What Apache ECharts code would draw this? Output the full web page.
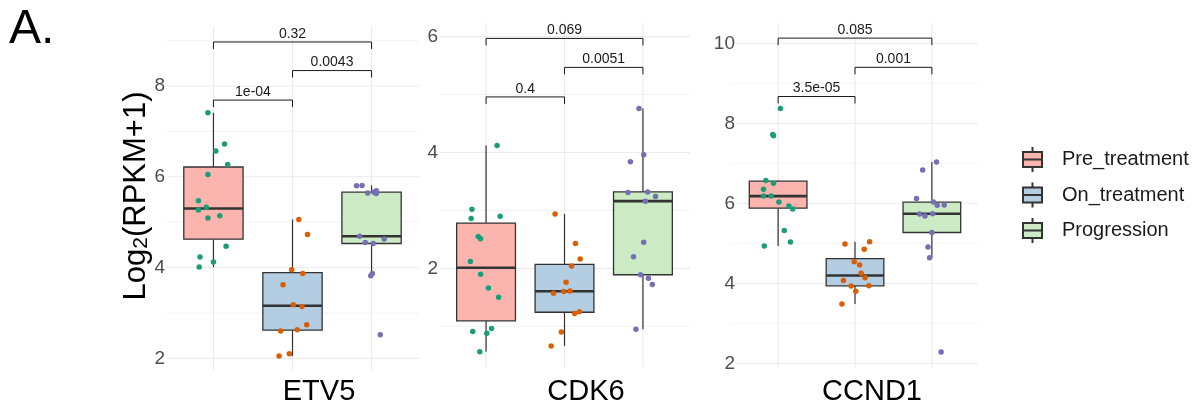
<!DOCTYPE html>
<html>
<head>
<meta charset="utf-8">
<script src="https://cdn.jsdelivr.net/npm/echarts@6/dist/echarts.min.js"></script>
<style>
  html, body { margin: 0; padding: 0; background: #ffffff; }
  #chart { width: 1195px; height: 410px; }
</style>
</head>
<body>
<div id="chart"></div>
<script>
// Treatment groups and genes
const groups = ['Pre_treatment', 'On_treatment', 'Progression'];
const genes = ['ETV5', 'CDK6', 'CCND1'];

// ETV5 expression, log2(RPKM+1), one value per sample
const etv5Pre  = [7.41, 6.72, 6.57, 6.27, 6.05, 5.47, 5.33, 5.27, 5.09, 5.14, 4.47, 4.23, 4.12, 4.01];
const etv5On   = [5.06, 4.73, 3.95, 3.87, 3.62, 3.18, 3.14, 2.74, 2.60, 2.63, 2.10, 2.05];
const etv5Prog = [5.80, 5.81, 5.64, 5.66, 5.69, 5.63, 4.69, 4.63, 4.55, 4.53, 3.82, 3.87, 2.52];
// horizontal jitter of each sample dot (category units)
const etv5PreJitter  = [-0.07, 0.14, 0.03, 0.18, -0.07, -0.19, -0.09, -0.19, -0.07, 0.08, 0.16, -0.17, 0.00, -0.18];
const etv5OnJitter   = [0.08, 0.19, -0.01, 0.13, -0.12, 0.01, 0.12, 0.18, -0.15, 0.06, -0.04, -0.17];
const etv5ProgJitter = [-0.19, -0.12, -0.05, 0.03, 0.06, 0.06, -0.15, 0.16, -0.08, 0.02, -0.01, 0.01, 0.11];
const etv5PValues = ['1e-04', '0.0043', '0.32'];
const etv5Ticks = [2, 4, 6, 8];
const etv5MinorTicks = [3, 5, 7, 9];

// CDK6
const cdk6Pre  = [4.12, 3.02, 2.86, 2.90, 2.55, 2.51, 2.12, 1.90, 1.66, 1.50, 0.91, 0.88, 0.96, 0.56];
const cdk6On   = [2.94, 2.43, 2.16, 2.04, 1.76, 1.57, 1.60, 1.61, 1.22, 1.25, 0.90, 0.66];
const cdk6Prog = [4.76, 3.96, 3.84, 3.31, 3.32, 3.24, 3.16, 2.45, 2.20, 1.89, 1.83, 1.72, 0.95];
const cdk6PreJitter  = [0.14, -0.18, -0.19, 0.18, -0.10, -0.07, -0.20, -0.07, 0.03, 0.16, -0.17, 0.01, 0.07, -0.08];
const cdk6OnJitter   = [-0.12, 0.14, 0.20, 0.09, 0.02, -0.14, -0.01, 0.07, 0.13, 0.19, -0.04, -0.17];
const cdk6ProgJitter = [-0.05, 0.01, -0.16, -0.19, 0.06, 0.16, 0.03, 0.01, -0.12, -0.03, 0.07, 0.12, -0.09];
const cdk6PValues = ['0.4', '0.0051', '0.069'];
const cdk6Ticks = [2, 4, 6];
const cdk6MinorTicks = [1, 3, 5];

// CCND1
const ccnd1Pre  = [8.37, 7.72, 7.69, 6.57, 6.50, 6.35, 6.18, 6.18, 6.03, 5.93, 5.86, 5.32, 5.03, 4.93];
const ccnd1On   = [4.98, 5.04, 4.85, 4.54, 4.46, 4.25, 4.14, 4.07, 3.93, 3.94, 3.80, 3.48];
const ccnd1Prog = [7.03, 6.83, 6.12, 6.03, 5.95, 5.96, 5.73, 5.68, 5.74, 5.27, 4.91, 4.64, 2.28];
const ccnd1PreJitter  = [0.03, -0.07, -0.06, -0.16, -0.06, -0.19, -0.19, -0.09, 0.01, 0.14, 0.19, 0.08, 0.16, -0.18];
const ccnd1OnJitter   = [-0.13, 0.19, 0.12, -0.01, 0.06, 0.08, 0.13, -0.15, -0.05, 0.18, 0.01, -0.17];
const ccnd1ProgJitter = [0.06, -0.12, -0.20, 0.02, 0.07, 0.16, -0.16, -0.09, 0.01, 0.00, -0.05, -0.03, 0.12];
const ccnd1PValues = ['3.5e-05', '0.001', '0.085'];
const ccnd1Ticks = [2, 4, 6, 8, 10];
const ccnd1MinorTicks = [3, 5, 7, 9];

// pairwise comparisons (1-based group positions), same order as the p-value lists
const comparisons = [[1, 2], [2, 3], [1, 3]];

// ---- styling / layout ----
const FONT = '"Liberation Sans", Arial, Helvetica, sans-serif';
const boxFill = ['#FBB4AE', '#B3CDE3', '#CCEBC5'];
const dotColor = ['#1B9E77', '#D95F02', '#7570B3'];
const OUTLINE = '#333333';
const BOX_WIDTH = 0.75;
const TIP = 7;

const panels = [
  { gene: genes[0], values: [etv5Pre, etv5On, etv5Prog], jitter: [etv5PreJitter, etv5OnJitter, etv5ProgJitter],
    pValues: etv5PValues, ticks: etv5Ticks, minor: etv5MinorTicks,
    grid: { left: 166, top: 27, width: 253, height: 343 }, yMin: 1.743, yMax: 9.30,
    bracketY: [7.69, 8.34, 8.97], labelX: 319, labelMargin: -1 },
  { gene: genes[1], values: [cdk6Pre, cdk6On, cdk6Prog], jitter: [cdk6PreJitter, cdk6OnJitter, cdk6ProgJitter],
    pValues: cdk6PValues, ticks: cdk6Ticks, minor: cdk6MinorTicks,
    grid: { left: 439, top: 23, width: 251, height: 344 }, yMin: 0.297, yMax: 6.236,
    bracketY: [4.96, 5.47, 5.97], labelX: 586, labelMargin: -1 },
  { gene: genes[2], values: [ccnd1Pre, ccnd1On, ccnd1Prog], jitter: [ccnd1PreJitter, ccnd1OnJitter, ccnd1ProgJitter],
    pValues: ccnd1PValues, ticks: ccnd1Ticks, minor: ccnd1MinorTicks,
    grid: { left: 732, top: 23, width: 246, height: 345 }, yMin: 1.883, yMax: 10.508,
    bracketY: [8.67, 9.40, 10.13], labelX: 872, labelMargin: -5 }
];

// Tukey box statistics (type-7 quantiles, whiskers at 1.5 IQR)
function quantile(sorted, p) {
  const h = (sorted.length - 1) * p;
  const lo = Math.floor(h), hi = Math.ceil(h);
  return sorted[lo] + (h - lo) * (sorted[hi] - sorted[lo]);
}
function boxStats(values) {
  const s = values.slice().sort((a, b) => a - b);
  const q1 = quantile(s, 0.25), med = quantile(s, 0.5), q3 = quantile(s, 0.75);
  const iqr = q3 - q1;
  const lo = s.find(v => v >= q1 - 1.5 * iqr);
  const hi = s.slice().reverse().find(v => v <= q3 + 1.5 * iqr);
  return [lo, q1, med, q3, hi];
}

function renderGridLines(params, api) {
  const cs = params.coordSys;
  const kind = api.value(2);
  if (kind === 2) {
    const x = api.coord([api.value(0), api.value(1)])[0];
    return { type: 'line', shape: { x1: x, y1: cs.y, x2: x, y2: cs.y + cs.height },
      style: { stroke: '#EBEBEB', lineWidth: 1.1 } };
  }
  const y = api.coord([api.value(0), api.value(1)])[1];
  return { type: 'line', shape: { x1: cs.x, y1: y, x2: cs.x + cs.width, y2: y },
    style: { stroke: kind === 1 ? '#EBEBEB' : '#F2F2F2', lineWidth: kind === 1 ? 1.1 : 0.9 } };
}

function renderBox(params, api) {
  const x = api.value(0);
  const half = BOX_WIDTH / 2;
  const lo = api.coord([x, api.value(1)]);
  const q1 = api.coord([x - half, api.value(2)]);
  const med = api.value(3);
  const q3 = api.coord([x + half, api.value(4)]);
  const hi = api.coord([x, api.value(5)]);
  const mL = api.coord([x - half, med]);
  const mR = api.coord([x + half, med]);
  const line = { stroke: OUTLINE, lineWidth: 1.2 };
  return { type: 'group', children: [
    { type: 'line', shape: { x1: lo[0], y1: lo[1], x2: lo[0], y2: q1[1] }, style: line },
    { type: 'line', shape: { x1: hi[0], y1: hi[1], x2: hi[0], y2: q3[1] }, style: line },
    { type: 'rect', shape: { x: q1[0], y: q3[1], width: q3[0] - q1[0], height: q1[1] - q3[1] },
      style: { fill: boxFill[params.dataIndex], stroke: OUTLINE, lineWidth: 1.3 } },
    { type: 'line', shape: { x1: mL[0], y1: mL[1], x2: mR[0], y2: mR[1] },
      style: { stroke: OUTLINE, lineWidth: 2.6 } }
  ] };
}

function makeBracketRenderer(pValues) {
  return function (params, api) {
    const a = api.coord([api.value(0), api.value(2)]);
    const b = api.coord([api.value(1), api.value(2)]);
    const label = pValues[api.value(3)];
    return { type: 'group', children: [
      { type: 'polyline', shape: { points: [[a[0], a[1] + TIP], a, b, [b[0], b[1] + TIP]] },
        style: { stroke: '#1a1a1a', lineWidth: 1, fill: null } },
      { type: 'text', x: (a[0] + b[0]) / 2, y: a[1] - 8,
        style: { text: label, fontSize: 14, fontFamily: FONT, fill: '#1a1a1a', align: 'center', verticalAlign: 'middle' } }
    ] };
  };
}

const grid = [], xAxis = [], yAxis = [], series = [];
panels.forEach((p, pi) => {
  grid.push(Object.assign({ containLabel: false }, p.grid));
  xAxis.push({ type: 'value', gridIndex: pi, min: 0.4, max: 3.6, show: false });
  yAxis.push({
    type: 'value', gridIndex: pi, min: p.yMin, max: p.yMax, z: 5,
    axisLine: { show: false }, axisTick: { show: false }, splitLine: { show: false },
    axisLabel: { customValues: p.ticks, color: '#4D4D4D', fontSize: 19, fontFamily: FONT, margin: p.labelMargin,
      backgroundColor: '#ffffff', padding: [0, 2, 0, 0] }
  });

  const lines = [];
  p.minor.forEach(v => lines.push([1, v, 0]));
  p.ticks.forEach(v => lines.push([1, v, 1]));
  [1, 2, 3].forEach(c => lines.push([c, p.yMin, 2]));
  series.push({ type: 'custom', xAxisIndex: pi, yAxisIndex: pi, z: 0, silent: true,
    renderItem: renderGridLines, data: lines });

  series.push({ type: 'custom', name: p.gene + ' box', xAxisIndex: pi, yAxisIndex: pi, z: 2, silent: true,
    encode: { x: 0, y: [1, 2, 3, 4, 5] },
    renderItem: renderBox,
    data: p.values.map((vals, gi) => [gi + 1].concat(boxStats(vals))) });

  p.values.forEach((vals, gi) => {
    series.push({ type: 'scatter', name: groups[gi], xAxisIndex: pi, yAxisIndex: pi, z: 3, silent: true,
      symbol: 'circle', symbolSize: 5.5, itemStyle: { color: dotColor[gi], opacity: 1 },
      data: vals.map((v, k) => [gi + 1 + p.jitter[gi][k], v]) });
  });

  series.push({ type: 'custom', xAxisIndex: pi, yAxisIndex: pi, z: 4, silent: true,
    encode: { x: [0, 1], y: 2 },
    renderItem: makeBracketRenderer(p.pValues),
    data: comparisons.map((c, k) => [c[0], c[1], p.bracketY[k], k]) });
});

// panel label, shared y title, gene names and legend
const graphic = [
  { type: 'text', x: 9, y: 30, style: { text: 'A.', fontSize: 48, fontFamily: FONT, fill: '#000', align: 'left', verticalAlign: 'middle' } },
  { type: 'text', x: 136, y: 196, rotation: Math.PI / 2,
    style: { text: '{m|Log}{s|2}{m|(RPKM+1)}', align: 'center', verticalAlign: 'middle',
      rich: { m: { fontSize: 31, fontFamily: FONT, fill: '#000', lineHeight: 31, verticalAlign: 'middle' },
              s: { fontSize: 21, fontFamily: FONT, fill: '#000', lineHeight: 8, verticalAlign: 'bottom' } } } }
];
panels.forEach(p => {
  graphic.push({ type: 'text', x: p.labelX, y: 392,
    style: { text: p.gene, fontSize: 29, fontFamily: FONT, fill: '#000', align: 'center', verticalAlign: 'middle' } });
});
const legendRows = [159.5, 195, 230.5];
groups.forEach((g, gi) => {
  const cy = legendRows[gi];
  graphic.push({ type: 'group', children: [
    { type: 'line', shape: { x1: 1032.5, y1: cy - 12.5, x2: 1032.5, y2: cy + 12.5 }, style: { stroke: OUTLINE, lineWidth: 2 } },
    { type: 'rect', shape: { x: 1023, y: cy - 7.5, width: 19, height: 15 }, style: { fill: boxFill[gi], stroke: OUTLINE, lineWidth: 2 } },
    { type: 'line', shape: { x1: 1023, y1: cy, x2: 1042, y2: cy }, style: { stroke: OUTLINE, lineWidth: 2 } },
    { type: 'text', x: 1062, y: cy, style: { text: g, fontSize: 20, fontFamily: FONT, fill: '#1a1a1a', align: 'left', verticalAlign: 'middle' } }
  ] });
});

const chart = echarts.init(document.getElementById('chart'), null, { renderer: 'canvas' });
chart.setOption({
  animation: false,
  backgroundColor: '#ffffff',
  grid, xAxis, yAxis, series, graphic
});
</script>
</body>
</html>
